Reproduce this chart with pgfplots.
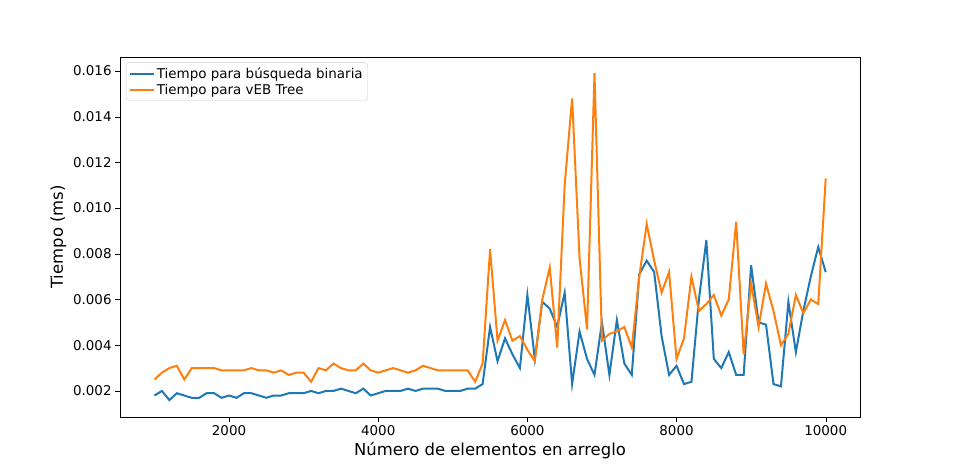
\documentclass[border=0pt]{standalone}
\usepackage{pgfplots}
\pgfplotsset{compat=1.18}
\usepackage{fontspec}
\setmainfont{DejaVu Sans}
\definecolor{mblue}{HTML}{1F77B4}
\definecolor{morange}{HTML}{FF7F0E}
\begin{document}
\begin{tikzpicture}
\begin{axis}[scale only axis, width=740bp, height=360bp,
 xmin=538, xmax=10460, ymin=0.00086, ymax=0.01661,
 xtick={2000,4000,6000,8000,10000},
 ytick={0.002,0.004,0.006,0.008,0.010,0.012,0.014,0.016},
 scaled y ticks=false, scaled x ticks=false,
 /pgf/number format/assume math mode=true,
 yticklabel style={/pgf/number format/.cd,fixed,fixed zerofill,precision=3},
 xticklabel style={/pgf/number format/.cd,set thousands separator={}},
 tick label style={font=\fontsize{13.5}{16}\selectfont},
 tick align=outside, tick style={black}, major tick length=4.9bp,
 xtick pos=bottom, ytick pos=left,
 xlabel={Número de elementos en arreglo}, ylabel={Tiempo (ms)},
 label style={font=\fontsize{16.5}{19}\selectfont},
 legend style={at={(0.008,0.985)}, anchor=north west, font=\fontsize{13.5}{16}\selectfont, draw=black!20, rounded corners=3pt, cells={anchor=west}, inner sep=3bp},
 legend image post style={xscale=1.4},
 legend cell align=left,
 every axis plot/.append style={line width=2bp}]
\addplot[mblue] coordinates {(1000,.0018)(1100,.0020)(1200,.0016)(1300,.0019)(1400,.0018)(1500,.0017)(1600,.0017)(1700,.0019)(1800,.0019)(1900,.0017)(2000,.0018)(2100,.0017)(2200,.0019)(2300,.0019)(2400,.0018)(2500,.0017)(2600,.0018)(2700,.0018)(2800,.0019)(2900,.0019)(3000,.0019)(3100,.0020)(3200,.0019)(3300,.0020)(3400,.0020)(3500,.0021)(3600,.0020)(3700,.0019)(3800,.0021)(3900,.0018)(4000,.0019)(4100,.0020)(4200,.0020)(4300,.0020)(4400,.0021)(4500,.0020)(4600,.0021)(4700,.0021)(4800,.0021)(4900,.0020)(5000,.0020)(5100,.0020)(5200,.0021)(5300,.0021)(5400,.0023)(5500,.0048)(5600,.0033)(5700,.0043)(5800,.0036)(5900,.0030)(6000,.0062)(6100,.0034)(6200,.0059)(6300,.0056)(6400,.0048)(6500,.0063)(6600,.0023)(6700,.0046)(6800,.0034)(6900,.0027)(7000,.0050)(7100,.0027)(7200,.0051)(7300,.0032)(7400,.0027)(7500,.0071)(7600,.0077)(7700,.0072)(7800,.0044)(7900,.0027)(8000,.0031)(8100,.0023)(8200,.0024)(8300,.0060)(8400,.0086)(8500,.0034)(8600,.0030)(8700,.0037)(8800,.0027)(8900,.0027)(9000,.0075)(9100,.0050)(9200,.0049)(9300,.0023)(9400,.0022)(9500,.0059)(9600,.0037)(9700,.0055)(9800,.0070)(9900,.0083)(10000,.0072)};
\addlegendentry{Tiempo para búsqueda binaria}
\addplot[morange] coordinates {(1000,.0025)(1100,.0028)(1200,.0030)(1300,.0031)(1400,.0025)(1500,.0030)(1600,.0030)(1700,.0030)(1800,.0030)(1900,.0029)(2000,.0029)(2100,.0029)(2200,.0029)(2300,.0030)(2400,.0029)(2500,.0029)(2600,.0028)(2700,.0029)(2800,.0027)(2900,.0028)(3000,.0028)(3100,.0024)(3200,.0030)(3300,.0029)(3400,.0032)(3500,.0030)(3600,.0029)(3700,.0029)(3800,.0032)(3900,.0029)(4000,.0028)(4100,.0029)(4200,.0030)(4300,.0029)(4400,.0028)(4500,.0029)(4600,.0031)(4700,.0030)(4800,.0029)(4900,.0029)(5000,.0029)(5100,.0029)(5200,.0029)(5300,.0024)(5400,.0032)(5500,.0082)(5600,.0042)(5700,.0051)(5800,.0042)(5900,.0044)(6000,.0038)(6100,.0033)(6200,.0060)(6300,.0074)(6400,.0039)(6500,.0110)(6600,.0148)(6700,.0078)(6800,.0047)(6900,.0159)(7000,.0042)(7100,.0045)(7200,.0046)(7300,.0048)(7400,.0039)(7500,.0070)(7600,.0093)(7700,.0077)(7800,.0063)(7900,.0072)(8000,.0034)(8100,.0043)(8200,.0070)(8300,.0055)(8400,.0058)(8500,.0062)(8600,.0053)(8700,.0060)(8800,.0094)(8900,.0036)(9000,.0067)(9100,.0048)(9200,.0067)(9300,.0055)(9400,.0040)(9500,.0045)(9600,.0062)(9700,.0054)(9800,.0060)(9900,.0058)(10000,.0113)};
\addlegendentry{Tiempo para vEB Tree}
\end{axis}
\useasboundingbox ([shift={(-120bp,-52bp)}]current axis.south west) rectangle ([shift={(96bp,57bp)}]current axis.north east);
\end{tikzpicture}
\end{document}
